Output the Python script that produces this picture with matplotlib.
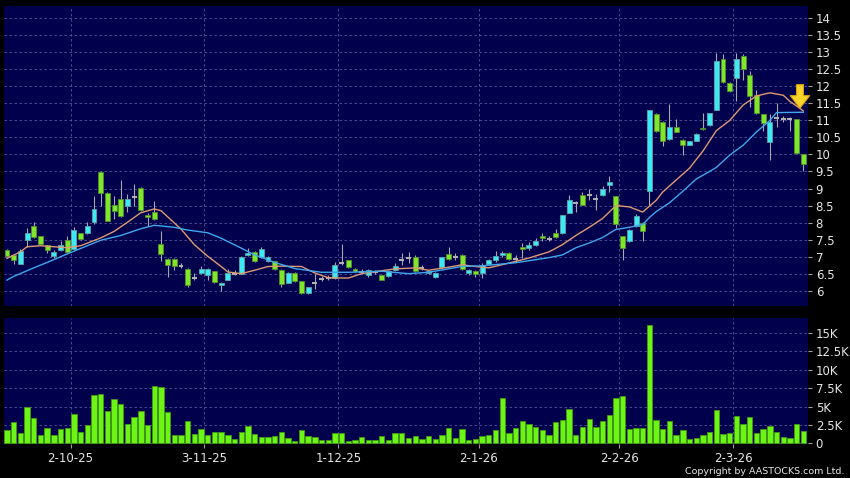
import numpy as np
import matplotlib.pyplot as plt
from matplotlib.ticker import FuncFormatter

# 日K线数据 (c0 ~ c119)
opens = [7.19, 7.04, 6.79, 7.49, 7.89, 7.60, 7.33, 7.01, 7.19, 7.50,
         7.21, 7.68, 7.68, 8.01, 9.49, 8.87, 8.51, 8.68, 8.48, 8.74,
         9.02, 8.21, 8.31, 7.37, 6.93, 6.93, 6.71, 6.64, 6.37, 6.52,
         6.47, 6.57, 6.16, 6.32, 6.50, 6.50, 7.04, 7.15, 6.99, 6.87,
         6.86, 6.62, 6.24, 6.52, 6.27, 5.93, 6.22, 6.34, 6.37, 6.37,
         6.81, 6.89, 6.64, 6.55, 6.45, 6.55, 6.45, 6.42, 6.60, 6.91,
         6.96, 6.98, 6.67, 6.52, 6.40, 6.70, 7.08, 6.98, 7.06, 6.52,
         6.59, 6.52, 6.79, 6.89, 7.05, 7.11, 6.94, 7.29, 7.26, 7.33,
         7.62, 7.53, 7.70, 7.68, 8.29, 8.58, 8.82, 8.82, 8.70, 8.80,
         9.10, 8.77, 7.60, 7.45, 7.89, 7.99, 8.92, 11.20, 10.96, 10.44,
         10.81, 10.42, 10.29, 10.41, 10.78, 10.87, 11.32, 12.81, 12.11, 12.24,
         12.89, 12.32, 11.74, 11.18, 10.36, 11.06, 11.05, 11.05, 11.03, 10.00]
highs = [7.22, 7.06, 7.23, 7.85, 8.01, 7.62, 7.35, 7.18, 7.45, 7.60,
         7.87, 7.70, 8.02, 8.77, 9.50, 8.90, 8.77, 9.26, 8.85, 9.12,
         9.05, 8.27, 8.63, 7.75, 6.95, 6.95, 6.80, 6.66, 6.52, 6.72,
         6.66, 6.59, 6.25, 6.64, 6.62, 7.02, 7.26, 7.17, 7.28, 7.01,
         6.88, 6.64, 6.54, 6.54, 6.29, 6.12, 6.49, 6.42, 6.45, 6.83,
         7.38, 6.91, 6.66, 6.65, 6.64, 6.60, 6.47, 6.61, 6.80, 7.10,
         7.15, 7.05, 6.75, 6.59, 6.54, 7.00, 7.29, 7.10, 7.08, 6.64,
         6.61, 6.80, 6.93, 7.16, 7.16, 7.13, 7.05, 7.40, 7.43, 7.55,
         7.70, 7.60, 7.80, 8.23, 8.82, 8.62, 8.90, 9.00, 8.85, 9.08,
         9.38, 8.79, 7.62, 7.81, 8.24, 8.01, 11.32, 11.22, 10.98, 11.47,
         11.05, 10.44, 10.41, 10.63, 11.21, 11.23, 12.97, 12.95, 12.13, 12.97,
         12.95, 12.45, 11.90, 11.20, 11.20, 11.50, 11.12, 11.10, 11.05, 10.02]
lows = [6.98, 6.79, 6.77, 7.29, 7.55, 7.33, 7.10, 6.96, 7.17, 7.12,
        7.19, 7.48, 7.66, 7.95, 8.48, 8.04, 8.10, 8.15, 8.30, 8.48,
        8.33, 7.89, 8.08, 6.86, 6.40, 6.61, 6.66, 6.10, 6.32, 6.50,
        6.32, 6.24, 6.00, 6.30, 6.45, 6.48, 7.02, 6.85, 6.97, 6.85,
        6.62, 6.12, 6.22, 6.25, 5.91, 5.91, 6.05, 6.27, 6.30, 6.35,
        6.75, 6.68, 6.55, 6.50, 6.40, 6.50, 6.30, 6.40, 6.58, 6.75,
        6.80, 6.55, 6.60, 6.48, 6.38, 6.68, 6.91, 6.90, 6.62, 6.45,
        6.40, 6.38, 6.75, 6.85, 7.00, 6.91, 6.85, 6.97, 7.20, 7.31,
        7.45, 7.45, 7.55, 7.66, 8.27, 8.30, 8.51, 8.65, 8.38, 8.78,
        8.90, 7.85, 6.91, 7.43, 7.87, 7.45, 8.48, 10.67, 10.25, 10.42,
        10.65, 9.98, 10.27, 10.39, 10.72, 10.85, 11.30, 12.11, 11.84, 11.58,
        12.20, 11.40, 11.19, 10.70, 9.83, 10.80, 10.95, 10.70, 10.00, 9.50]
closes = [7.01, 6.91, 7.16, 7.70, 7.57, 7.36, 7.18, 7.13, 7.35, 7.15,
          7.79, 7.52, 7.89, 8.40, 8.87, 8.06, 8.33, 8.19, 8.68, 8.76,
          8.38, 8.17, 8.11, 7.09, 6.74, 6.71, 6.71, 6.16, 6.37, 6.64,
          6.64, 6.26, 6.22, 6.52, 6.50, 6.99, 7.11, 6.87, 7.21, 6.99,
          6.64, 6.20, 6.52, 6.27, 5.93, 6.10, 6.22, 6.34, 6.37, 6.76,
          6.81, 6.70, 6.57, 6.55, 6.62, 6.55, 6.32, 6.59, 6.71, 6.91,
          6.96, 6.57, 6.67, 6.57, 6.52, 6.98, 6.93, 6.98, 6.64, 6.62,
          6.49, 6.74, 6.91, 7.01, 7.11, 6.93, 6.94, 7.23, 7.34, 7.47,
          7.54, 7.53, 7.58, 8.21, 8.66, 8.58, 8.53, 8.82, 8.70, 9.00,
          9.20, 7.96, 7.26, 7.79, 8.19, 7.74, 11.30, 10.69, 10.39, 10.81,
          10.67, 10.29, 10.39, 10.61, 10.74, 11.21, 12.74, 12.13, 11.86, 12.81,
          12.52, 11.71, 11.21, 10.93, 10.95, 11.06, 11.05, 11.05, 10.05, 9.71]
# 成交量 (K)
vol_k = [1.8, 2.85, 1.35, 5.0, 3.4, 1.1, 2.1, 1.2, 1.95, 2.1,
         4.0, 1.5, 2.5, 6.5, 6.75, 4.35, 6.0, 5.35, 2.6, 3.6,
         4.35, 2.45, 7.8, 7.65, 4.3, 1.2, 1.2, 3.0, 1.3, 1.95,
         1.2, 1.55, 1.55, 1.2, 0.65, 1.6, 2.4, 1.25, 0.9, 0.9,
         1.0, 1.55, 0.7, 0.35, 1.8, 1.0, 0.85, 0.45, 0.45, 1.35,
         1.35, 0.3, 0.45, 0.85, 0.45, 0.45, 1.05, 0.45, 1.35, 1.4,
         0.7, 0.95, 0.65, 1.05, 0.65, 1.1, 2.1, 0.7, 1.95, 0.4,
         0.65, 1.05, 1.15, 1.8, 6.2, 1.35, 2.1, 3.1, 2.6, 2.2,
         1.8, 1.15, 2.85, 3.2, 4.6, 1.2, 2.25, 3.3, 2.2, 3.0,
         3.9, 6.1, 6.4, 2.0, 2.1, 2.05, 16.1, 3.15, 1.9, 3.0,
         1.2, 1.8, 0.65, 0.75, 1.2, 1.6, 4.55, 1.3, 1.4, 3.7,
         2.6, 3.6, 1.35, 1.9, 2.4, 1.6, 0.9, 0.8, 2.6, 1.7]

# 均线 (读图取点)
ma_a_idx = [0, 2, 3, 5, 9, 11, 14, 16, 18, 20, 22, 23, 26, 28, 30, 32, 33, 35, 37, 39,
            41, 44, 46, 48, 51, 53, 55, 58, 61, 63, 66, 68, 70, 72, 75, 78, 81, 83, 85, 87,
            89, 91, 93, 95, 97, 98, 100, 102, 104, 106, 108, 110, 112, 114, 116, 117, 119]
ma_a_val = [6.95, 7.14, 7.29, 7.32, 7.26, 7.32, 7.55, 7.74, 8.01, 8.29, 8.40, 8.35, 7.81, 7.35,
            7.01, 6.71, 6.55, 6.50, 6.60, 6.71, 6.72, 6.71, 6.52, 6.38, 6.37, 6.50, 6.56, 6.64,
            6.67, 6.60, 6.69, 6.76, 6.71, 6.67, 6.81, 6.96, 7.14, 7.35, 7.62, 7.86, 8.12, 8.50,
            8.46, 8.31, 8.65, 8.90, 9.25, 9.60, 10.10, 10.70, 11.00, 11.45, 11.72, 11.81, 11.74,
            11.56, 11.28]
ma_b_idx = [0, 1, 4, 7, 9, 12, 14, 17, 20, 22, 25, 27, 30, 32, 35, 37, 40, 43, 47, 51,
            56, 60, 63, 68, 71, 76, 81, 83, 85, 87, 89, 91, 93, 95, 96, 97, 99, 101, 103, 105,
            106, 108, 110, 112, 114, 115, 119]
ma_b_val = [6.31, 6.42, 6.67, 6.91, 7.08, 7.32, 7.48, 7.62, 7.82, 7.92, 7.86, 7.78, 7.70, 7.54,
            7.25, 7.05, 6.83, 6.65, 6.54, 6.54, 6.57, 6.50, 6.54, 6.71, 6.73, 6.82, 6.97, 7.05,
            7.26, 7.40, 7.56, 7.80, 7.86, 7.94, 8.15, 8.32, 8.58, 8.92, 9.28, 9.50, 9.62, 9.98,
            10.27, 10.66, 11.00, 11.23, 11.24]

date_labels = ['2-10-25', '3-11-25', '1-12-25', '2-1-26', '2-2-26', '2-3-26']
date_idx = [10, 30, 50, 71, 92, 109]   # 每月首个交易日

o = np.array(opens); h = np.array(highs); l = np.array(lows); c = np.array(closes)
x = np.arange(len(o))
up_col = '#3ee8f4'
dn_col = '#80e629'
bg = '#00004d'
grid_col = '#55559a'
txt = '#e6e6e6'

fig = plt.figure(figsize=(8.5, 4.78), dpi=100, facecolor='black')
ax1 = fig.add_axes([4/850, 1-306/478, 804/850, 300/478])
ax2 = fig.add_axes([4/850, 1-444/478, 804/850, 126/478], sharex=ax1)

for ax in (ax1, ax2):
    ax.set_facecolor(bg)
    for s in ax.spines.values():
        s.set_visible(False)
    ax.yaxis.tick_right()
    ax.tick_params(axis='y', colors='#a0a0a0', labelcolor=txt, labelsize=8.5,
                   length=3, width=0.8, pad=2.5)
    ax.set_axisbelow(True)
    for d in date_idx:
        ax.axvline(d - 0.5, color=grid_col, lw=0.6, ls=(0, (3, 3)), zorder=0)

# K线
ax1.vlines(x, l, h, color='#a8a8a8', lw=0.8, zorder=2)
doji = np.abs(c - o) < 0.03
rise = (c > o) & ~doji
fall = (c < o) & ~doji
w = 0.74
ax1.bar(x[rise], (c - o)[rise], bottom=o[rise], width=w, color=up_col,
        edgecolor='#5aa5a5', lw=0.6, zorder=3)
ax1.bar(x[fall], (o - c)[fall], bottom=c[fall], width=w, color=dn_col,
        edgecolor='#4f9030', lw=0.6, zorder=3)
ax1.hlines(o[doji], x[doji] - w/2, x[doji] + w/2, color='#b0b0b0', lw=1.5, zorder=3)

ax1.plot(ma_a_idx, ma_a_val, color='#e09a70', lw=1.0, zorder=4)
ax1.plot(ma_b_idx, ma_b_val, color='#3fa8ee', lw=1.0, zorder=4)

ax1.annotate('', xy=(118.5, 11.36), xytext=(118.5, 12.05),
             arrowprops=dict(width=5, headwidth=14, headlength=9,
                             fc='#ffd52a', ec='#e0a010', lw=0.8), zorder=6)

ax1.set_xlim(-0.45, 119.7)
ax1.set_ylim(5.55, 14.36)
ax1.set_yticks(np.arange(6, 14.01, 0.5))
ax1.yaxis.set_major_formatter(FuncFormatter(lambda v, p: ('%g' % v)))
ax1.grid(axis='y', color=grid_col, lw=0.6, ls=(0, (3, 3)))
ax1.tick_params(axis='x', bottom=False, labelbottom=False)

# 成交量
ax2.bar(x, vol_k, width=0.8, color='#6cf514', edgecolor='#3f9a12', lw=0.6, zorder=3)
ax2.set_ylim(-0.08, 17.0)
ax2.set_yticks(np.arange(0, 15.01, 2.5))
ax2.yaxis.set_major_formatter(FuncFormatter(lambda v, p: '0' if v == 0 else ('%gK' % v)))
ax2.grid(axis='y', color=grid_col, lw=0.6, ls=(0, (3, 3)))
ax2.set_xticks([d - 0.5 for d in date_idx])
ax2.set_xticklabels(date_labels)
ax2.tick_params(axis='x', colors='#a0a0a0', labelcolor=txt, labelsize=8.5,
                length=3, width=0.8, pad=2.5)

fig.text(844/850, 1-471.5/478, 'Copyright by AASTOCKS.com Ltd.', color=txt,
         fontsize=6.8, ha='right', va='center')

fig.savefig('out.png', dpi=100, facecolor='black')
